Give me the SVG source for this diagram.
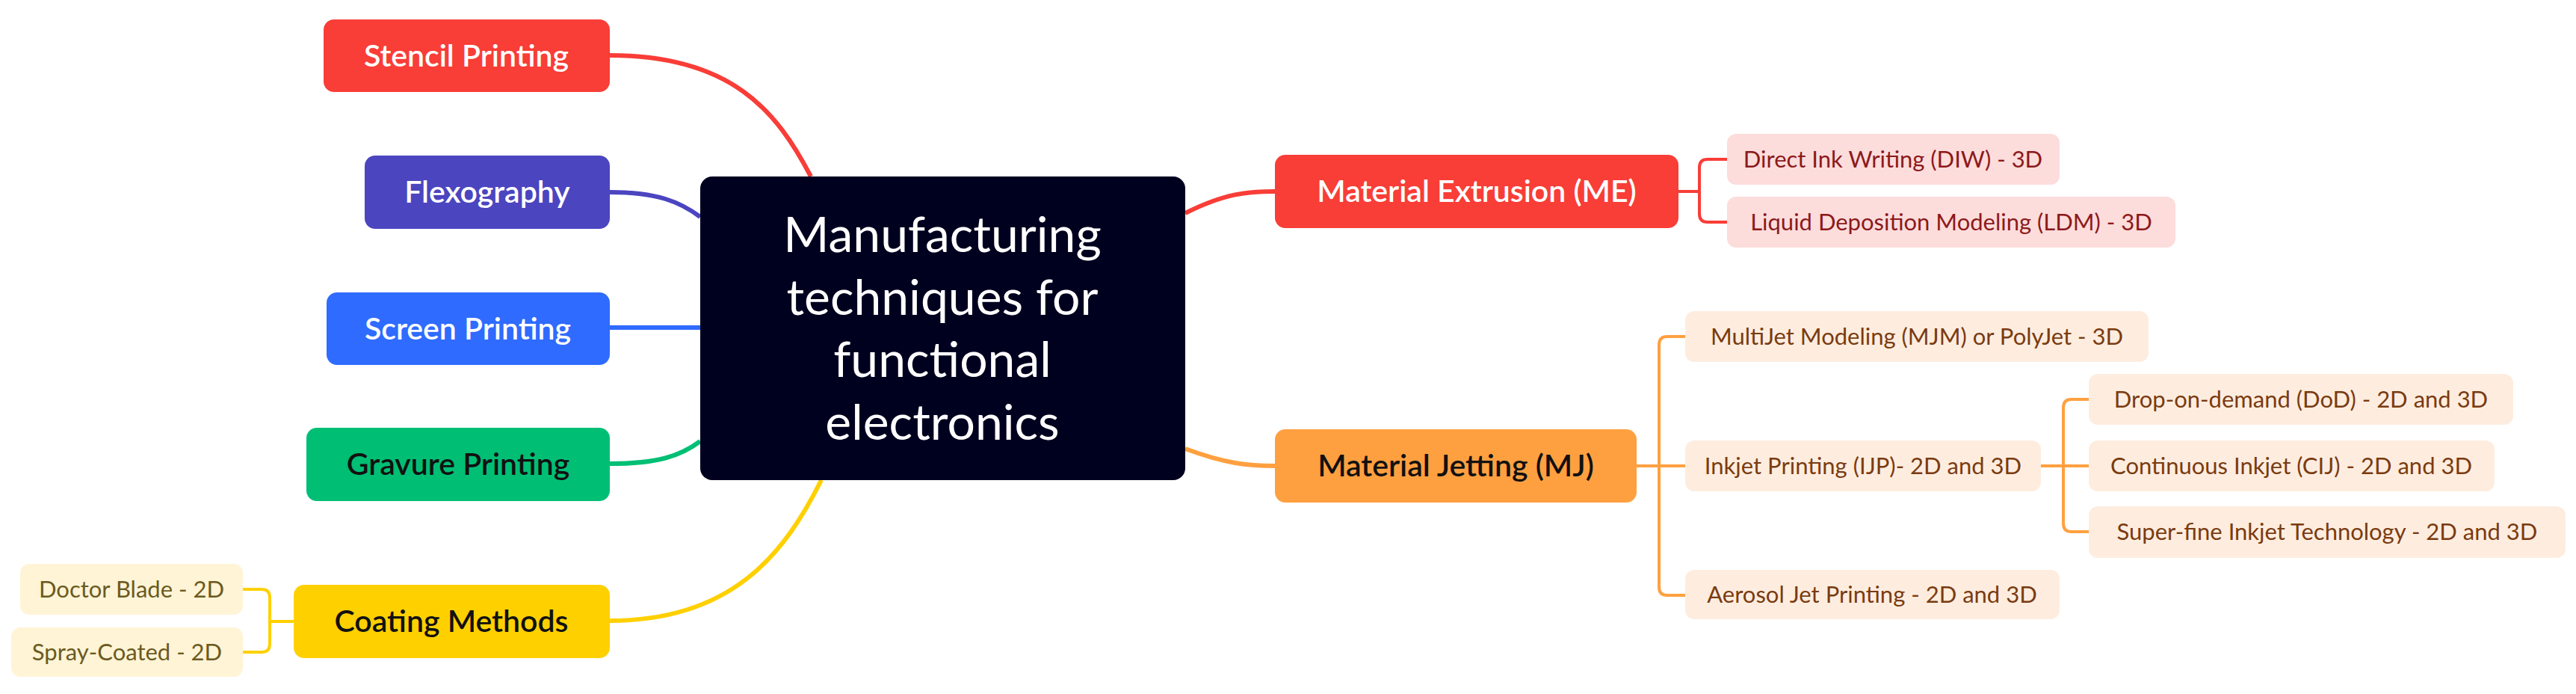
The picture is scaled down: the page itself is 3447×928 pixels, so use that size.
<svg xmlns="http://www.w3.org/2000/svg" width="3447" height="928" viewBox="0 0 3447 928">
<style>
text{font-family:Lato,"Open Sans","Liberation Sans",sans-serif;text-anchor:middle}
.l1{font-size:41px;font-weight:600}
.s{font-size:31px}
.w{fill:#fff}.k{fill:#111}
.c{fill:none;stroke-width:6}
.b{fill:none;stroke-width:4}
</style>
<g id="connectors">
<path class="c" stroke="#F93D37" d="M816,74 C980,74 1040,150 1085,236"/>
<path class="c" stroke="#4B45C0" d="M816,257 C880,257 910,270 937,290"/>
<path class="c" stroke="#2F6BFF" d="M816,438 L937,438"/>
<path class="c" stroke="#00BF75" d="M816,620 C880,620 910,610 937,590"/>
<path class="c" stroke="#FFD000" d="M816,830 C980,830 1050,740 1099,642"/>
<path class="c" stroke="#F93D37" d="M1586,285 C1640,258 1670,256 1706,256"/>
<path class="c" stroke="#FFA040" d="M1586,600 C1640,620 1670,623 1706,623"/>
<path class="b" stroke="#FFD000" d="M393,831 H361 M325,788 H350 Q361,788 361,799 V861 Q361,872 350,872 H325"/>
<path class="b" stroke="#F93D37" d="M2246,256 H2274 M2311,213 H2285 Q2274,213 2274,224 V286 Q2274,297 2285,297 H2311"/>
<path class="b" stroke="#FFA040" d="M2190,623 H2255 M2255,450 H2231 Q2220,450 2220,461 V785 Q2220,796 2231,796 H2255"/>
<path class="b" stroke="#FFA040" d="M2731,623 H2795 M2795,534 H2772 Q2761,534 2761,545 V700 Q2761,711 2772,711 H2795"/>
</g>
<g id="center"><rect x="937" y="236" width="649" height="406" rx="16" fill="#00001F"/>
<text x="1261" y="337" font-size="66" class="w">Manufacturing</text>
<text x="1261" y="421" font-size="66" class="w">techniques for</text>
<text x="1261" y="504" font-size="66" class="w">functional</text>
<text x="1261" y="588" font-size="66" class="w">electronics</text></g>
<g id="stencil"><rect x="433" y="26" width="383" height="97" rx="14" fill="#F93D37"/><text x="624" y="89" class="l1 w">Stencil Printing</text></g>
<g id="flexo"><rect x="488" y="208" width="328" height="98" rx="14" fill="#4B45C0"/><text x="652" y="271" class="l1 w">Flexography</text></g>
<g id="screen"><rect x="437" y="391" width="379" height="97" rx="14" fill="#2F6BFF"/><text x="626" y="454" class="l1 w">Screen Printing</text></g>
<g id="gravure"><rect x="410" y="572" width="406" height="98" rx="14" fill="#00BF75"/><text x="613" y="635" class="l1 k">Gravure Printing</text></g>
<g id="coating"><rect x="393" y="782" width="423" height="98" rx="14" fill="#FFD000"/><text x="604" y="845" class="l1 k">Coating Methods</text></g>
<g id="doctor"><rect x="27" y="754" width="298" height="68" rx="12" fill="#FFF4D6"/><text x="176" y="799" class="s" fill="#6B5A20">Doctor Blade - 2D</text></g>
<g id="spray"><rect x="15" y="839" width="310" height="66" rx="12" fill="#FFF4D6"/><text x="170" y="883" class="s" fill="#6B5A20">Spray-Coated - 2D</text></g>
<g id="me"><rect x="1706" y="207" width="540" height="98" rx="14" fill="#F93D37"/><text x="1976" y="270" class="l1 w">Material Extrusion (ME)</text></g>
<g id="diw"><rect x="2311" y="179" width="445" height="68" rx="12" fill="#FDDCDC"/><text x="2533" y="224" class="s" fill="#8B1A1A">Direct Ink Writing (DIW) - 3D</text></g>
<g id="ldm"><rect x="2311" y="263" width="600" height="68" rx="12" fill="#FDDCDC"/><text x="2611" y="308" class="s" fill="#8B1A1A">Liquid Deposition Modeling (LDM) - 3D</text></g>
<g id="mj"><rect x="1706" y="574" width="484" height="98" rx="14" fill="#FFA040"/><text x="1948" y="637" class="l1 k">Material Jetting (MJ)</text></g>
<g id="mjm"><rect x="2255" y="416" width="620" height="68" rx="12" fill="#FEEDDF"/><text x="2565" y="461" class="s" fill="#7A3B10">MultiJet Modeling (MJM) or PolyJet - 3D</text></g>
<g id="ijp"><rect x="2255" y="589" width="476" height="68" rx="12" fill="#FEEDDF"/><text x="2493" y="634" class="s" fill="#7A3B10">Inkjet Printing (IJP)- 2D and 3D</text></g>
<g id="aerosol"><rect x="2255" y="762" width="501" height="66" rx="12" fill="#FEEDDF"/><text x="2505" y="806" class="s" fill="#7A3B10">Aerosol Jet Printing - 2D and 3D</text></g>
<g id="dod"><rect x="2795" y="500" width="568" height="68" rx="12" fill="#FEEDDF"/><text x="3079" y="545" class="s" fill="#7A3B10">Drop-on-demand (DoD) - 2D and 3D</text></g>
<g id="cij"><rect x="2795" y="589" width="543" height="68" rx="12" fill="#FEEDDF"/><text x="3066" y="634" class="s" fill="#7A3B10">Continuous Inkjet (CIJ) - 2D and 3D</text></g>
<g id="superfine"><rect x="2795" y="677" width="638" height="69" rx="12" fill="#FEEDDF"/><text x="3114" y="722" class="s" fill="#7A3B10">Super-fine Inkjet Technology - 2D and 3D</text></g>
</svg>
